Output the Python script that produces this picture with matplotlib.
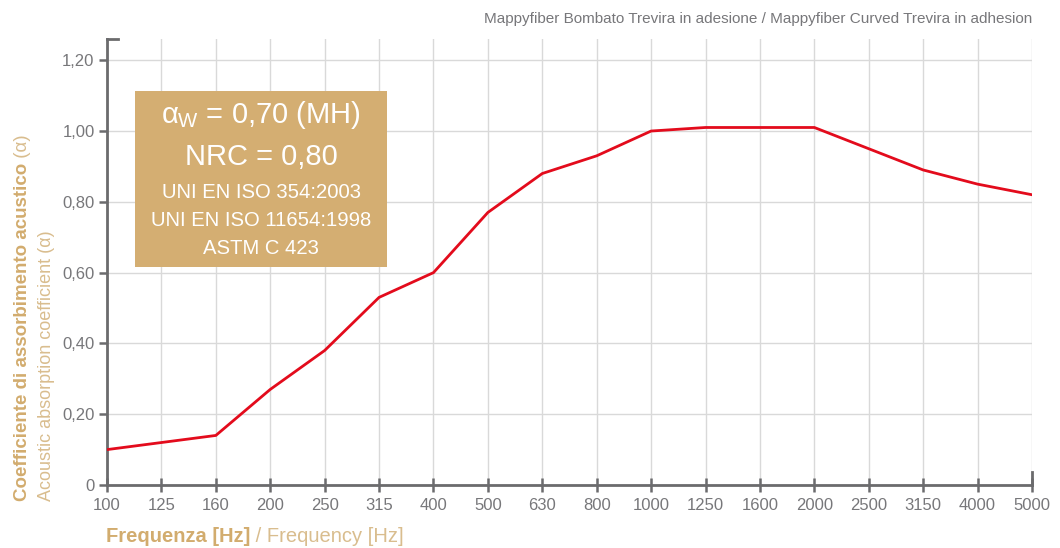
import matplotlib
matplotlib.use("Agg")
import matplotlib.pyplot as plt
from matplotlib.patches import Rectangle

plt.rcParams['font.family'] = ['Liberation Sans', 'DejaVu Sans']
plt.rcParams['mathtext.fontset'] = 'custom'
plt.rcParams['mathtext.rm'] = 'Liberation Sans'
plt.rcParams['mathtext.it'] = 'Liberation Sans'

frequencies = ["100", "125", "160", "200", "250", "315", "400", "500", "630", "800",
               "1000", "1250", "1600", "2000", "2500", "3150", "4000", "5000"]
alpha = [0.10, 0.12, 0.14, 0.27, 0.38, 0.53, 0.60, 0.77, 0.88, 0.93,
         1.00, 1.01, 1.01, 1.01, 0.95, 0.89, 0.85, 0.82]
y_ticks = [0, 0.2, 0.4, 0.6, 0.8, 1.0, 1.2]
y_tick_labels = ["0", "0,20", "0,40", "0,60", "0,80", "1,00", "1,20"]

title = "Mappyfiber Bombato Trevira in adesione / Mappyfiber Curved Trevira in adhesion"
box_lines = ["UNI EN ISO 354:2003", "UNI EN ISO 11654:1998", "ASTM C 423"]

W, H = 1060, 548
fig = plt.figure(figsize=(W / 100, H / 100), dpi=100)
ax = fig.add_axes([107 / W, 1 - 485 / H, (1032 - 107) / W, (485 - 39) / H])

x = list(range(len(frequencies)))
ax.plot(x, alpha, color='#E30B1C', lw=2.0, zorder=3, solid_joinstyle='miter')

ax.set_xlim(0, len(frequencies) - 1)
ax.set_ylim(0, 1.26)
ax.set_xticks(x)
ax.set_xticklabels(frequencies)
ax.set_yticks(y_ticks)
ax.set_yticklabels(y_tick_labels)

grey = '#6b6b6d'
ax.grid(True, color='#d9d9d9', lw=1.0, zorder=0)
ax.set_axisbelow(True)
for s in ['top', 'right']:
    ax.spines[s].set_visible(False)
for s in ['left', 'bottom']:
    ax.spines[s].set_color(grey)
    ax.spines[s].set_linewidth(2.0)
ax.tick_params(axis='x', direction='inout', length=10, width=1.8, color=grey,
               labelcolor='#77777a', labelsize=12, pad=4)
ax.tick_params(axis='y', direction='out', length=6, width=1.8, color=grey,
               labelcolor='#77777a', labelsize=12, pad=3)

# decorative end caps
ax.plot([0, 0.012], [1, 1], transform=ax.transAxes, color=grey, lw=2.0, clip_on=False)
ax.plot([1, 1], [0, 0.03], transform=ax.transAxes, color=grey, lw=2.0, clip_on=False)

# info box
bx0, bx1, by0, by1 = 135, 387, 91, 267
fig.patches.append(Rectangle((bx0 / W, 1 - by1 / H), (bx1 - bx0) / W, (by1 - by0) / H,
                             transform=fig.transFigure, facecolor='#D4AE72',
                             edgecolor='none', zorder=5))
cx = (bx0 + bx1) / 2 / W
fig.text(cx, 1 - 115 / H, r"$\alpha_{\mathrm{W}}$ = 0,70 (MH)", color='white', fontsize=21,
         ha='center', va='center', zorder=6)
fig.text(cx, 1 - 157 / H, "NRC = 0,80", color='white', fontsize=21,
         ha='center', va='center', zorder=6)
for yy, line in zip([192, 221, 249], box_lines):
    fig.text(cx, 1 - yy / H, line, color='white', fontsize=14.6,
             ha='center', va='center', zorder=6)

# title
fig.text(1032 / W, 1 - 19 / H, title, color='#77777a', fontsize=11, ha='right', va='center')

tan = '#D2AC6E'
light_tan = '#D9BD8E'
# x label
t1 = fig.text(106 / W, 1 - 542 / H, "Frequenza [Hz]", color=tan, fontsize=14.5,
              fontweight='bold', ha='left', va='baseline')
ax.annotate(" / Frequency [Hz]", xy=(1, 1 - 542 / H), xycoords=(t1, 'figure fraction'),
            color=light_tan, fontsize=14.5, ha='left', va='baseline', annotation_clip=False)

# y label
ybase = 1 - 501 / H
t2 = fig.text(27 / W, ybase, "Coefficiente di assorbimento acustico", color=tan, fontsize=13.5,
              fontweight='bold', rotation=90, rotation_mode='anchor', ha='left', va='baseline')
ax.annotate(" (α)", xy=(27 / W, 1), xycoords=('figure fraction', t2), color=light_tan,
            fontsize=13.5, rotation=90, rotation_mode='anchor', ha='left', va='baseline',
            annotation_clip=False)
fig.text(51 / W, ybase, "Acoustic absorption coefficient (α)", color=light_tan, fontsize=13,
         rotation=90, rotation_mode='anchor', ha='left', va='baseline')

fig.savefig("out.png", dpi=100, facecolor='white')
